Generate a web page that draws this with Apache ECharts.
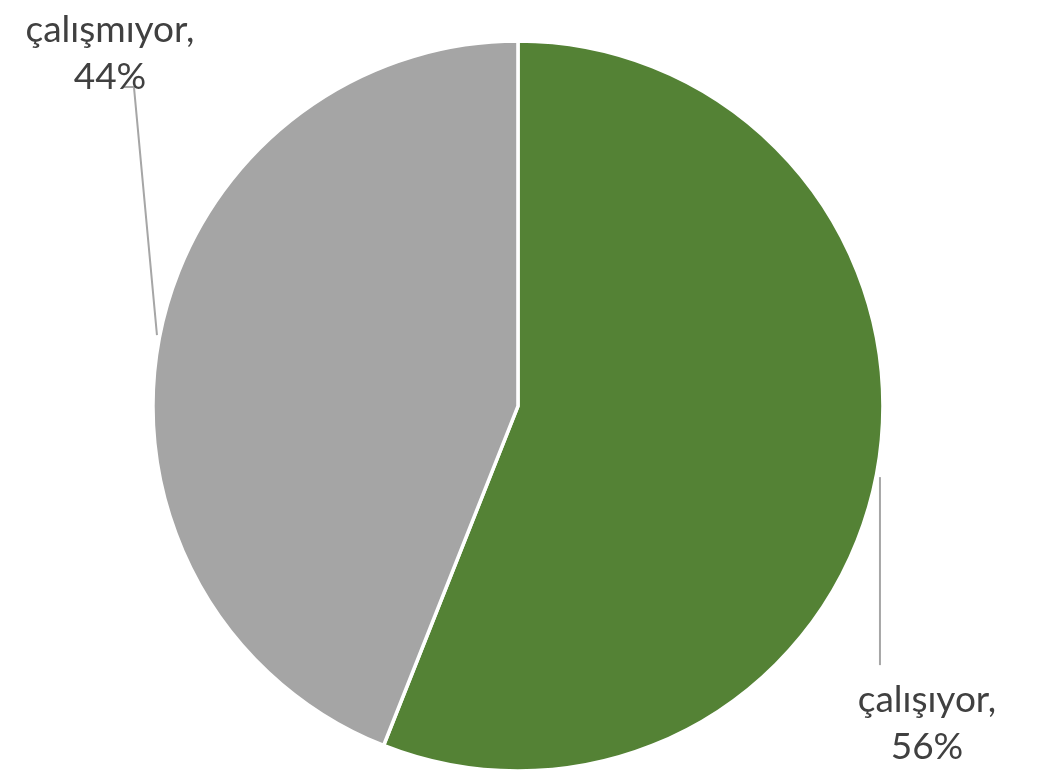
<!DOCTYPE html>
<html>
<head>
<meta charset="utf-8">
<script src="https://cdn.jsdelivr.net/npm/echarts@6/dist/echarts.min.js"></script>
<style>
html,body{margin:0;padding:0;background:#fff;}
#main{width:1038px;height:778px;}
</style>
</head>
<body>
<div id="main"></div>
<script>
const categories = ['çalışıyor', 'çalışmıyor'];
const values = [56, 44];
const colors = ['#548235', '#A5A5A5'];

const chart = echarts.init(document.getElementById('main'), null, {renderer: 'canvas'});
const W = 1038, H = 778;
const cx = W * 0.499, cy = H * 0.522, R = 365;

// label placements (relative to pie centre)
const labelPos = [
  {x: cx + 409, y: cy + 317, line: [[cx + 362, cy + 71], [cx + 362, cy + 259]]},
  {x: cx - 408, y: cy - 353, line: [[cx - 361, cy - 71], [cx - 384, cy - 319], [cx - 394, cy - 319]]}
];

chart.setOption({
  backgroundColor: '#ffffff',
  animation: false,
  series: [{
    type: 'pie',
    center: [cx, cy],
    radius: [0, R],
    startAngle: 90,
    clockwise: true,
    data: categories.map((c, i) => ({name: c, value: values[i], itemStyle: {color: colors[i]}})),
    itemStyle: {borderColor: '#ffffff', borderWidth: 3.5},
    label: {
      show: true,
      position: 'outside',
      formatter: '{b},\n{c}%',
      fontFamily: 'Lato, "Open Sans", sans-serif',
      fontSize: 37,
      lineHeight: 47,
      color: '#404040',
      align: 'center',
      overflow: 'none',
      width: 300
    },
    labelLine: {
      show: true,
      lineStyle: {color: '#A6A6A6', width: 2}
    },
    labelLayout: function (params) {
      const p = labelPos[params.dataIndex];
      return {
        x: p.x,
        y: p.y,
        align: 'center',
        verticalAlign: 'middle',
        labelLinePoints: p.line
      };
    }
  }]
});
</script>
</body>
</html>
